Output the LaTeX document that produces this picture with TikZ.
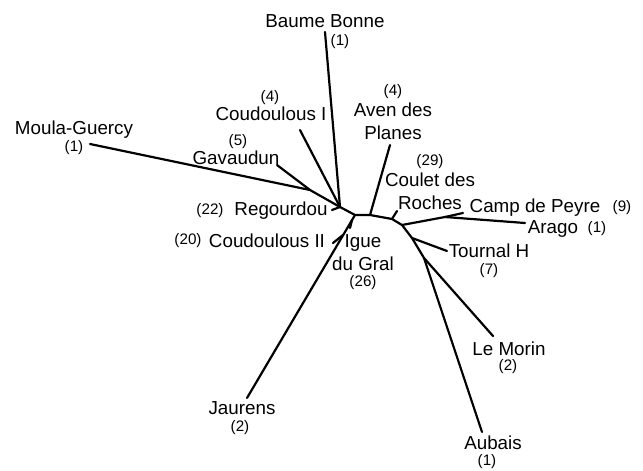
\documentclass[tikz,border=0pt]{standalone}
\usepackage{fontspec}
\setmainfont{Liberation Sans}
\usetikzlibrary{positioning}

\begin{document}
\begin{tikzpicture}[
		x=0.5pt, y=-0.5pt,
		every node/.style={inner sep=0pt},
		site/.style={font=\fontsize{9.4}{11.5}\selectfont, align=center},
		count/.style={font=\fontsize{7.6}{9}\selectfont},
		branch/.style={line width=1.1pt, line cap=round, line join=round}
		]
		
		\useasboundingbox (0,0) rectangle (643,471);
		
		% inner junctions
		\coordinate (hubL) at (340,207);
		\coordinate (jG) at (310,190);
		\coordinate (jA) at (355,215);
		\coordinate (jB) at (370,215);
		\coordinate (jC) at (392,219);
		\coordinate (hubR) at (402,225);
		\coordinate (jP) at (445,217);
		\coordinate (jT) at (412,238);
		\coordinate (jM) at (424,258);
		\coordinate (jI) at (352,220);
		\coordinate (jK) at (343,235);
		
		% branch tips
		\coordinate (tBB) at (325,32);
		\coordinate (tC1) at (300,130);
		\coordinate (tMG) at (90,144);
		\coordinate (tGV) at (277,165);
		\coordinate (tRG) at (332,210);
		\coordinate (tAV) at (390,145);
		\coordinate (tCD) at (397,211);
		\coordinate (tCP) at (463,213);
		\coordinate (tAR) at (525,223);
		\coordinate (tTN) at (447,251);
		\coordinate (tLM) at (493,336);
		\coordinate (tAU) at (482,432);
		\coordinate (tJA) at (247,398);
		\coordinate (tIG) at (350,228);
		\coordinate (tC2) at (333,243);
		
		% labels
		\node[site] (bbName) at (325,21) {Baume Bonne};
		\node[count] (bbNum) at (340,42) {(1)};
		\node[count] (c1Num) at (270,98) {(4)};
		\node[site] (c1Name) at (271,114) {Coudoulous I};
		\node[site] (mgName) at (74,130) {Moula-Guercy};
		\node[count] (mgNum) at (74,148) {(1)};
		\node[count] (gvNum) at (238,142) {(5)};
		\node[site] (gvName) at (236,158) {Gavaudun};
		\node[count] (avNum) at (393,92) {(4)};
		\node[site] (avName) at (393,121) {Aven des\\Planes};
		\node[count] (cdNum) at (430,162) {(29)};
		\node[site] (cdName) at (430,191) {Coulet des\\Roches};
		\node[site] (cpName) at (535,208) {Camp de Peyre};
		\node[count] (cpNum) at (622,208) {(9)};
		\node[site] (arName) at (553,229) {Arago};
		\node[count] (arNum) at (597,229) {(1)};
		\node[site] (tnName) at (489,251) {Tournal H};
		\node[count] (tnNum) at (489,271) {(7)};
		\node[site] (lmName) at (509,349) {Le Morin};
		\node[count] (lmNum) at (508,367) {(2)};
		\node[site] (auName) at (493,443) {Aubais};
		\node[count] (auNum) at (487,462) {(1)};
		\node[site] (jaName) at (242,408) {Jaurens};
		\node[count] (jaNum) at (240,428) {(2)};
		\node[count] (rgNum) at (210,211) {(22)};
		\node[site] (rgName) at (281,211) {Regourdou};
		\node[count] (c2Num) at (188,241) {(20)};
		\node[site] (c2Name) at (267,241) {Coudoulous II};
		\node[site] (igName) at (363,253) {Igue\\du Gral};
		\node[count] (igNum) at (363,283) {(26)};
		
		% tree
		\draw[branch] (tMG) -- (jG) -- (hubL);
		\draw[branch] (tGV) -- (jG);
		\draw[branch] (tC1) -- (hubL);
		\draw[branch] (tBB) -- (hubL);
		\draw[branch] (tRG) -- (hubL);
		\draw[branch] (hubL) -- (jA) -- (jB) -- (jC) -- (hubR);
		\draw[branch] (jB) -- (tAV);
		\draw[branch] (jC) -- (tCD);
		\draw[branch] (jA) -- (tJA);
		\draw[branch] (jI) -- (tIG);
		\draw[branch] (jK) -- (tC2);
		\draw[branch] (hubR) -- (jP) -- (tCP);
		\draw[branch] (jP) -- (tAR);
		\draw[branch] (hubR) -- (jT) -- (tTN);
		\draw[branch] (jT) -- (jM) -- (tLM);
		\draw[branch] (jM) -- (tAU);
		
	\end{tikzpicture}
\end{document}
